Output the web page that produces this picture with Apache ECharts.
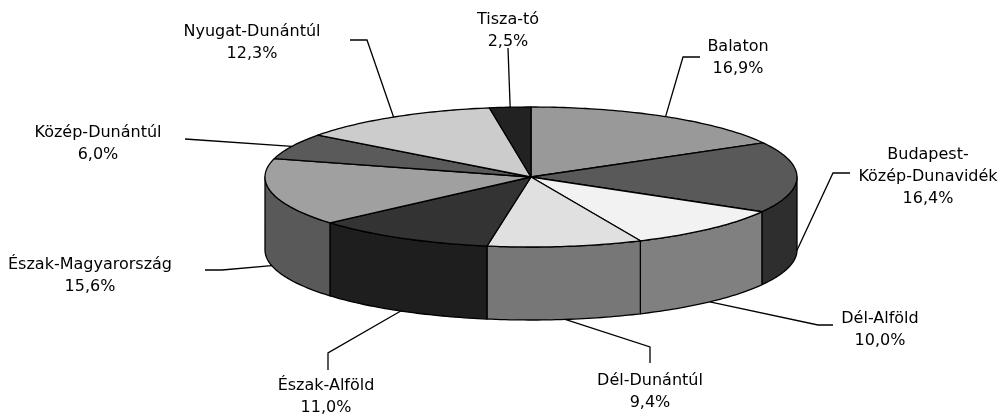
<!DOCTYPE html>
<html>
<head>
<meta charset="utf-8">
<script src="https://cdn.jsdelivr.net/npm/echarts@6/dist/echarts.min.js"></script>
<style>
html,body{margin:0;padding:0;background:#fff;}
#chart{width:1002px;height:417px;}
</style>
</head>
<body>
<div id="chart"></div>
<script>
// ---- data ----
const categories = ['Balaton', 'Budapest-\nKözép-Dunavidék', 'Dél-Alföld', 'Dél-Dunántúl', 'Észak-Alföld', 'Észak-Magyarország', 'Közép-Dunántúl', 'Nyugat-Dunántúl', 'Tisza-tó'];
const values = [16.9, 16.4, 10.0, 9.4, 11.0, 15.6, 6.0, 12.3, 2.5];

// ---- styles ----
const topColors  = ['#999999', '#595959', '#f2f2f2', '#e0e0e0', '#333333', '#a0a0a0', '#5a5a5a', '#cccccc', '#222222'];
const sideColors = ['#505050', '#2e2e2e', '#808080', '#777777', '#1e1e1e', '#595959', '#303030', '#6c6c6c', '#121212'];

// ---- layout (pixels) ----
const PIE = { cx: 531, cy: 177, rx: 266, ry: 70, depth: 73 };
// label text position: [centerX, first-line centerY]
const labelPos = [[738, 47], [928, 155], [880, 319], [650, 381], [326, 386], [90, 265], [98, 133], [252, 32], [508, 20]];
// leader line route after the anchor on the pie
const leaderRoute = [
  [[683, 57], [700, 57]],
  [[833, 173], [850, 173]],
  [[818, 325], [833, 325]],
  [[650, 347], [650, 363]],
  [[328, 353], [328, 370]],
  [[222, 270], [205, 270]],
  [[185, 139]],
  [[367, 40], [350, 40]],
  [[508, 48]]
];

const total = values.reduce((a, b) => a + b, 0);
const startAngles = [];
{
  let acc = 0;
  values.forEach(v => { startAngles.push(acc / total * 360); acc += v; });
}
function pt(deg, down) {
  const r = deg * Math.PI / 180;
  return [PIE.cx + PIE.rx * Math.sin(r), PIE.cy - PIE.ry * Math.cos(r) + (down || 0)];
}
function arc(a1, a2, down) {
  const pts = [];
  const n = Math.max(2, Math.ceil((a2 - a1) / 1));
  for (let i = 0; i <= n; i++) pts.push(pt(a1 + (a2 - a1) * i / n, down));
  return pts;
}
function fmt(v) { return v.toFixed(1).replace('.', ',') + '%'; }

function renderItem(params, api) {
  const i = params.dataIndex;
  const v = api.value(0);
  const a1 = startAngles[i];
  const a2 = a1 + v / total * 360;
  const children = [];
  // side wall (visible front half: 90..270 deg)
  const w1 = Math.max(a1, 90), w2 = Math.min(a2, 270);
  if (w2 > w1) {
    const topArc = arc(w1, w2, 0);
    const botArc = arc(w1, w2, PIE.depth).reverse();
    children.push({
      type: 'polygon', z2: 1,
      shape: { points: topArc.concat(botArc) },
      style: { fill: sideColors[i], stroke: '#000', lineWidth: 1.3, lineJoin: 'round' }
    });
  }
  // top face
  children.push({
    type: 'polygon', z2: 2,
    shape: { points: [[PIE.cx, PIE.cy]].concat(arc(a1, a2, 0)) },
    style: { fill: topColors[i], stroke: '#000', lineWidth: 1.3, lineJoin: 'round' }
  });
  // leader line
  const mid = (a1 + a2) / 2;
  const front = Math.cos(mid * Math.PI / 180) < 0;
  const anchor = pt(mid, front ? PIE.depth : 0);
  children.push({
    type: 'polyline', z2: 3,
    shape: { points: [anchor].concat(leaderRoute[i]) },
    style: { fill: null, stroke: '#000', lineWidth: 1.3 }
  });
  // label
  const txt = categories[i] + '\n' + fmt(v);
  const nLines = txt.split('\n').length;
  children.push({
    type: 'text', z2: 4,
    style: {
      text: txt,
      x: labelPos[i][0],
      y: labelPos[i][1] + (nLines - 1) * 11,
      align: 'center',
      verticalAlign: 'middle',
      lineHeight: 22,
      fontSize: 16,
      fontFamily: 'DejaVu Sans',
      fill: '#000'
    }
  });
  return { type: 'group', children: children };
}

const chart = echarts.init(document.getElementById('chart'), null, { renderer: 'canvas' });
chart.setOption({
  animation: false,
  backgroundColor: '#fff',
  series: [{
    type: 'custom',
    coordinateSystem: 'none',
    renderItem: renderItem,
    data: values.map(v => [v])
  }]
});
</script>
</body>
</html>
